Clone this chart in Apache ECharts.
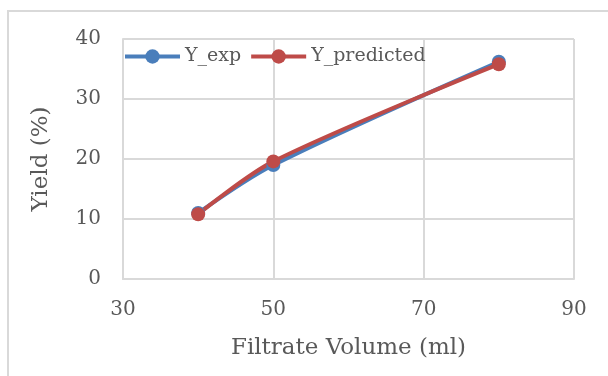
<!DOCTYPE html>
<html>
<head>
<meta charset="utf-8">
<script src="https://cdn.jsdelivr.net/npm/echarts@6/dist/echarts.min.js"></script>
<style>
  html, body { margin: 0; padding: 0; background: #fff; }
  #chart { width: 608px; height: 376px; }
</style>
</head>
<body>
<div id="chart"></div>
<script>
// filtrate volume (ml)
var volumes = [40, 50, 80];
// yield (%)
var yExp = [11, 19, 36.2];
var yPredicted = [10.8, 19.6, 35.8];

var xTicks = { min: 30, max: 90, step: 20 };
var yTicks = { min: 0, max: 40, step: 10 };

function pairs(xs, ys) {
  return xs.map(function (x, i) { return [x, ys[i]]; });
}

var textColor = "#595959";
var gridColor = "#d9d9d9";
var fontFamily = "'DejaVu Serif', serif";

var myChart = echarts.init(document.getElementById("chart"));
var option = {
  animation: false,
  textStyle: { fontFamily: fontFamily },
  graphic: [
    {
      type: "rect",
      shape: { x: 8, y: 11, width: 620, height: 380 },
      style: { fill: "none", stroke: gridColor, lineWidth: 2 },
      silent: true
    }
  ],
  grid: { left: 123, right: 34, top: 39, bottom: 97 },
  legend: {
    left: 118,
    top: 42,
    itemWidth: 55,
    itemHeight: 18,
    itemGap: 8,
    lineStyle: { width: 4 },
    textStyle: { color: textColor, fontSize: 19, fontFamily: fontFamily },
    data: ["Y_exp", "Y_predicted"]
  },
  xAxis: {
    type: "value",
    min: xTicks.min,
    max: xTicks.max,
    interval: xTicks.step,
    name: "Filtrate Volume (ml)",
    nameLocation: "middle",
    nameGap: 58,
    nameTextStyle: { color: textColor, fontSize: 23, fontFamily: fontFamily },
    axisLine: { lineStyle: { color: gridColor, width: 2 } },
    axisTick: { show: false },
    axisLabel: { color: textColor, fontSize: 20, margin: 21 },
    splitLine: { show: true, lineStyle: { color: gridColor, width: 2 } }
  },
  yAxis: {
    type: "value",
    min: yTicks.min,
    max: yTicks.max,
    interval: yTicks.step,
    name: "Yield (%)",
    nameLocation: "middle",
    nameGap: 70,
    nameTextStyle: { color: textColor, fontSize: 23, fontFamily: fontFamily },
    axisLine: { show: true, lineStyle: { color: gridColor, width: 2 } },
    axisTick: { show: false },
    axisLabel: { color: textColor, fontSize: 20, margin: 22 },
    splitLine: { show: true, lineStyle: { color: gridColor, width: 2 } }
  },
  series: [
    {
      name: "Y_exp",
      type: "line",
      smooth: 0.3,
      symbol: "circle",
      symbolSize: 14,
      data: pairs(volumes, yExp),
      itemStyle: { color: "#4a7ebb" },
      lineStyle: { color: "#4a7ebb", width: 4 }
    },
    {
      name: "Y_predicted",
      type: "line",
      smooth: 0.3,
      symbol: "circle",
      symbolSize: 14,
      data: pairs(volumes, yPredicted),
      itemStyle: { color: "#be4b48" },
      lineStyle: { color: "#be4b48", width: 4 }
    }
  ]
};
myChart.setOption(option);
</script>
</body>
</html>
